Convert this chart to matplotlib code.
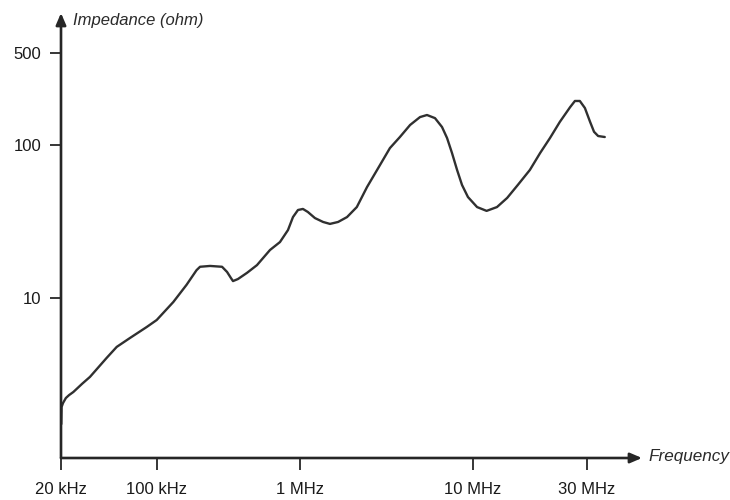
import numpy as np
import matplotlib
matplotlib.use("Agg")
import matplotlib.pyplot as plt

# ---- data ----
freq_hz = [20.1e3, 20.2e3, 20.7e3, 21.7e3, 22.9e3, 24.6e3, 28.5e3, 32.5e3, 43.0e3,
           50.9e3, 63.6e3, 84.1e3,
           99.5e3, 130e3, 161e3, 189e3, 200e3, 235e3, 285e3, 309e3, 329e3, 340e3,
           368e3, 426e3, 500e3, 617e3, 724e3, 824e3, 893e3, 968e3, 1.04e6, 1.11e6,
           1.22e6, 1.36e6, 1.49e6, 1.66e6, 1.87e6, 2.13e6, 2.44e6, 2.90e6, 3.31e6,
           3.78e6, 4.33e6, 4.94e6, 5.42e6, 6.03e6, 6.62e6, 7.08e6, 7.56e6, 8.09e6,
           8.64e6, 9.35e6, 10.4e6, 11.4e6, 12.6e6, 13.9e6, 15.4e6, 17.3e6, 19.1e6,
           21.0e6, 23.1e6, 25.5e6, 26.7e6, 28.0e6, 29.4e6, 30.9e6, 32.1e6, 33.4e6,
           35.6e6]
impedance_ohm = [1.50, 1.94, 2.06, 2.22, 2.32, 2.43, 2.75, 3.05, 4.06,
                 4.79, 5.48, 6.46,
                 7.18, 9.41, 12.2, 15.2, 16.0, 16.2, 16.0, 14.8, 13.5, 12.9,
                 13.3, 14.6, 16.4, 20.6, 23.2, 27.8, 33.8, 37.6, 38.2, 36.5,
                 33.3, 31.4, 30.5, 31.4, 33.8, 39.3, 53.1, 74.0, 95.5,
                 115, 142, 163, 169, 160, 137, 113, 88.7, 68.7,
                 54.8, 45.7, 39.3, 37.1, 39.3, 45.1, 54.8, 68.7, 88.7,
                 113, 150, 194, 216, 216, 191, 150, 126, 117,
                 115]

x_tick_values = [20e3, 100e3, 1e6, 10e6, 30e6]
x_tick_labels = ["20 kHz", "100 kHz", "1 MHz", "10 MHz", "30 MHz"]
y_tick_values = [10, 100, 500]
y_tick_labels = ["10", "100", "500"]

# ---- hand-drawn (non-uniform) log scales: tick positions as drawn ----
LX = np.log10([1e3, 20e3, 100e3, 1e6, 10e6, 30e6, 1e9])
PX = np.array([61 - 1.301 * 137.3, 61, 157, 300, 473, 587, 587 + 1.523 * 239])
LY = np.log10([0.01, 1, 10, 100, 500, 1e5])
PY = np.array([298 + 3 * 153, 298 + 153, 298, 145, 53, 53 - 2.301 * 131.6])


def xf(v):
    return np.interp(np.log10(np.clip(v, 1e-12, None)), LX, PX)


def xi(p):
    return 10 ** np.interp(p, PX, LX)


def yf(v):
    return -np.interp(np.log10(np.clip(v, 1e-12, None)), LY, PY)


def yi(p):
    return 10 ** np.interp(p, -PY, LY)


plt.rcParams['font.family'] = ['Liberation Sans', 'DejaVu Sans']
ink = '#262626'

fig = plt.figure(figsize=(7.3, 5.0), dpi=100)
ax = fig.add_axes([61 / 730, (500 - 458) / 500, (642 - 61) / 730, (458 - 13) / 500])
ax.set_xscale('function', functions=(xf, xi))
ax.set_yscale('function', functions=(yf, yi))
ax.set_xlim(20e3, xi(642))
ax.set_ylim(yi(-458), yi(-13))

ax.plot(freq_hz, impedance_ohm, color='#303030', lw=1.7, solid_capstyle='round',
        solid_joinstyle='round')

for s in ax.spines.values():
    s.set_visible(False)
ax.annotate('', xy=(1, 0), xytext=(0, 0), xycoords='axes fraction',
            arrowprops=dict(arrowstyle='-|>,head_length=0.7,head_width=0.3',
                            color=ink, lw=1.9, shrinkA=0, shrinkB=0))
ax.annotate('', xy=(0, 1), xytext=(0, 0), xycoords='axes fraction',
            arrowprops=dict(arrowstyle='-|>,head_length=0.7,head_width=0.3',
                            color=ink, lw=1.9, shrinkA=0, shrinkB=0))

ax.set_xticks(x_tick_values)
ax.set_xticklabels(x_tick_labels)
ax.set_yticks(y_tick_values)
ax.set_yticklabels(y_tick_labels)
ax.minorticks_off()
ax.tick_params(axis='x', direction='out', length=8.5, width=1.3, color=ink,
               pad=8.5, labelsize=12, labelcolor='#1a1a1a')
ax.tick_params(axis='y', direction='out', length=8, width=1.3, color=ink,
               pad=6, labelsize=12, labelcolor='#1a1a1a')

fig.text(73 / 730, 1 - 20 / 500, 'Impedance (ohm)', style='italic', fontsize=12,
         color='#2a2a2a', ha='left', va='center')
fig.text(648 / 730, 1 - 457 / 500, 'Frequency', style='italic', fontsize=12.3,
         color='#2a2a2a', ha='left', va='center')

fig.savefig('out.png', dpi=100, facecolor='white')
